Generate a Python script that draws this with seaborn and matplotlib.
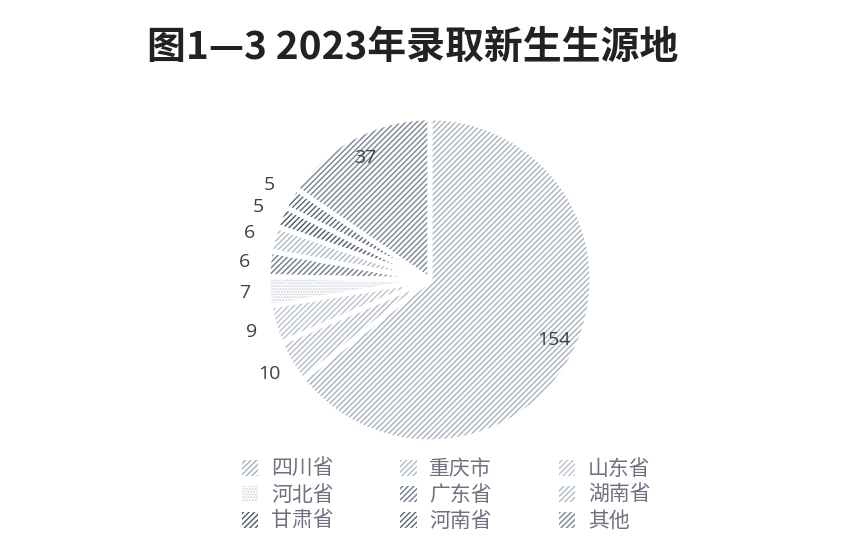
import matplotlib
matplotlib.use("Agg")
import matplotlib.pyplot as plt
import seaborn as sns
import numpy as np

# 数据
provinces = ["四川省", "重庆市", "山东省", "河北省", "广东省", "湖南省", "甘肃省", "河南省", "其他"]
counts = [154, 10, 9, 7, 6, 6, 5, 5, 37]
hatch_colors = ["#a8b2c0", "#b4bcc8", "#bcc4ce", "#d0d6de", "#6e7a8a",
                "#b0bac6", "#4e5a6a", "#5a6676", "#7a8696"]
hatches = ["//////", "//////", "//////", "......", "//////",
           "//////", "//////", "//////", "//////"]

sns.set_theme(style="white")
plt.rcParams['font.family'] = ['Noto Sans CJK SC', 'DejaVu Sans']
plt.rcParams['hatch.linewidth'] = 1.0

fig = plt.figure(figsize=(8.66, 5.58), dpi=100)
ax = fig.add_axes([0.3095, 0.208, 0.374, 0.581])

# 底层：带阴影线的扇形
wedges, _ = ax.pie(counts, startangle=90, counterclock=False, radius=1,
                   wedgeprops=dict(facecolor="white", linewidth=0))
for w, c, h in zip(wedges, hatch_colors, hatches):
    w.set_edgecolor(c)
    w.set_hatch(h)

# 上层：白色分隔线
ax.pie(counts, startangle=90, counterclock=False, radius=1,
       wedgeprops=dict(fill=False, edgecolor="white", linewidth=3.5))
ax.set_xlim(-1, 1)
ax.set_ylim(-1, 1)
ax.set_aspect("equal")

# 数值标签
for w, v in zip(wedges, counts):
    mid = np.deg2rad((w.theta1 + w.theta2) / 2)
    r = 0.85 if v > 20 else 1.15
    ax.text(r * np.cos(mid), r * np.sin(mid), str(v), ha="center", va="center",
            fontsize=14, color="#404040", family=['Open Sans', 'DejaVu Sans'])

fig.text(0.476, 0.915, "图1—3 2023年录取新生生源地", ha="center", va="center",
         fontsize=28, fontweight="bold", color="#222222")

# 图例按行排列
order = [0, 3, 6, 1, 4, 7, 2, 5, 8]
leg = fig.legend([wedges[i] for i in order], [provinces[i] for i in order],
                 ncol=3, loc="upper center",
                 bbox_to_anchor=(0.515, 0.213), frameon=False, fontsize=15,
                 handlelength=0.8, handleheight=0.8, columnspacing=3.2,
                 labelspacing=0.2, handletextpad=0.6)
for t in leg.get_texts():
    t.set_color("#707080")

fig.savefig("out.png", dpi=100, facecolor="white")
